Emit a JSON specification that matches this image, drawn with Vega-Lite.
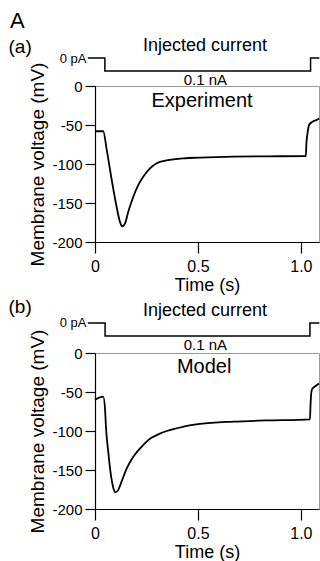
{
  "$schema": "https://vega.github.io/schema/vega-lite/v6.json",
  "padding": {"left": 8, "top": 10, "right": 0, "bottom": 0},
  "background": "white",
  "title": {"text": "A", "anchor": "start", "fontSize": 22, "fontWeight": "normal", "font": "Liberation Sans", "color": "black", "offset": 4, "dx": 2},
  "config": {
    "font": "Liberation Sans",
    "view": {"stroke": "#999", "strokeWidth": 1},
    "axis": {"grid": false, "labelFont": "Liberation Sans", "titleFont": "Liberation Sans", "labelColor": "black", "titleColor": "black", "domainColor": "black", "tickColor": "black", "titleFontWeight": "normal", "labelFlush": false, "labelOverlap": false, "domainWidth": 1.2, "tickWidth": 1.2, "tickCount": 10},
    "text": {"font": "Liberation Sans", "color": "black"}
  },
  "datasets": {
    "one": [{}],
    "curA": [{"t": -0.035, "I": 0}, {"t": 0.048, "I": -0.1}, {"t": 1.047, "I": 0}, {"t": 1.09, "I": 0}],
    "curB": [{"t": -0.035, "I": 0}, {"t": 0.049, "I": -0.1}, {"t": 1.044, "I": 0}, {"t": 1.09, "I": 0}],
    "expA": [
      {"t": 0, "v": -58}, {"t": 0.04, "v": -58}, {"t": 0.057, "v": -82}, {"t": 0.081, "v": -120},
      {"t": 0.105, "v": -155}, {"t": 0.121, "v": -174}, {"t": 0.131, "v": -180}, {"t": 0.146, "v": -176},
      {"t": 0.162, "v": -161}, {"t": 0.186, "v": -142}, {"t": 0.21, "v": -127}, {"t": 0.235, "v": -116},
      {"t": 0.267, "v": -105.5}, {"t": 0.3, "v": -99}, {"t": 0.348, "v": -95.5}, {"t": 0.43, "v": -92.7},
      {"t": 0.51, "v": -91.8}, {"t": 0.67, "v": -90.6}, {"t": 0.833, "v": -90.2}, {"t": 1.024, "v": -89.8},
      {"t": 1.027, "v": -73}, {"t": 1.032, "v": -61}, {"t": 1.04, "v": -50}, {"t": 1.055, "v": -46},
      {"t": 1.076, "v": -43.5}, {"t": 1.088, "v": -41.5}
    ],
    "modelB": [
      {"t": 0, "v": -60}, {"t": 0.04, "v": -56}, {"t": 0.049, "v": -73}, {"t": 0.053, "v": -94},
      {"t": 0.065, "v": -128}, {"t": 0.078, "v": -158}, {"t": 0.089, "v": -173}, {"t": 0.1, "v": -178.5},
      {"t": 0.113, "v": -175.5}, {"t": 0.129, "v": -165}, {"t": 0.154, "v": -148}, {"t": 0.186, "v": -133},
      {"t": 0.227, "v": -120}, {"t": 0.267, "v": -110}, {"t": 0.31, "v": -104}, {"t": 0.348, "v": -100}, {"t": 0.429, "v": -94.5},
      {"t": 0.51, "v": -91}, {"t": 0.671, "v": -88}, {"t": 0.833, "v": -86.5}, {"t": 1.044, "v": -85},
      {"t": 1.047, "v": -66}, {"t": 1.05, "v": -52}, {"t": 1.055, "v": -46}, {"t": 1.068, "v": -43},
      {"t": 1.088, "v": -39}
    ]
  },
  "vconcat": [
    {
      "width": 224, "height": 13,
      "view": {"stroke": null},
      "layer": [
        {
          "data": {"name": "curA"},
          "mark": {"type": "line", "interpolate": "step-after", "color": "black", "strokeWidth": 1.5},
          "encoding": {
            "x": {"field": "t", "type": "quantitative", "scale": {"domain": [0, 1.088], "nice": false, "zero": false}, "axis": null},
            "y": {"field": "I", "type": "quantitative", "scale": {"domain": [-0.1, 0], "nice": false, "zero": false},
              "axis": {"values": [0], "labelExpr": "'0 pA'", "ticks": false, "tickSize": 0, "domain": false, "labelPadding": 9, "labelFontSize": 13,
                "title": "(a)", "titleAngle": 0, "titleX": -87, "titleY": -6, "titleAlign": "left", "titleBaseline": "alphabetic", "titleFontSize": 19}}
          }
        },
        {
          "data": {"name": "one"},
          "mark": {"type": "text", "fontSize": 18, "align": "center", "baseline": "middle", "text": "Injected current"},
          "encoding": {"x": {"datum": 0.534}, "y": {"datum": 0.09}}
        },
        {
          "data": {"name": "one"},
          "mark": {"type": "text", "fontSize": 15, "align": "center", "baseline": "top", "dy": 2, "text": "0.1 nA"},
          "encoding": {"x": {"datum": 0.536}, "y": {"datum": -0.1}}
        }
      ]
    },
    {
      "width": 224, "height": 156,
      "layer": [
        {
          "data": {"name": "expA"},
          "mark": {"type": "line", "interpolate": "monotone", "color": "black", "strokeWidth": 1.8},
          "encoding": {
            "x": {"field": "t", "type": "quantitative", "scale": {"domain": [0, 1.088], "nice": false, "zero": false},
              "axis": {"values": [0, 0.5, 1], "labelExpr": "datum.value == 0 ? '0' : format(datum.value, '.1f')", "tickSize": 11, "labelPadding": 5, "labelFontSize": 16, "labelOverlap": false, "title": "Time (s)", "titleFontSize": 18, "titlePadding": 2}},
            "y": {"field": "v", "type": "quantitative", "scale": {"domain": [-200, 0], "nice": false, "zero": false},
              "axis": {"values": [0, -50, -100, -150, -200], "tickCount": 10, "labelExpr": "datum.value == 0 ? '0' : '-' + format(-datum.value, 'd')", "tickSize": 10, "labelPadding": 3, "labelFontSize": 15, "labelOverlap": false, "title": "Membrane voltage (mV)", "titleFontSize": 19, "titlePadding": 4}}
          }
        },
        {
          "data": {"name": "one"},
          "mark": {"type": "text", "fontSize": 20, "align": "center", "baseline": "middle", "text": "Experiment"},
          "encoding": {"x": {"datum": 0.52}, "y": {"datum": -19}}
        }
      ]
    },
    {
      "width": 224, "height": 81,
      "view": {"stroke": null},
      "layer": [
        {
          "data": {"name": "curB"},
          "mark": {"type": "line", "interpolate": "step-after", "color": "black", "strokeWidth": 1.5},
          "encoding": {
            "x": {"field": "t", "type": "quantitative", "scale": {"domain": [0, 1.088], "nice": false, "zero": false}, "axis": null},
            "y": {"field": "I", "type": "quantitative", "scale": {"domain": [-0.1154, 0.5077], "nice": false, "zero": false},
              "axis": {"values": [0], "labelExpr": "'0 pA'", "ticks": false, "tickSize": 0, "domain": false, "labelPadding": 9, "labelFontSize": 13,
                "title": "(b)", "titleAngle": 0, "titleX": -87, "titleY": 55, "titleAlign": "left", "titleBaseline": "alphabetic", "titleFontSize": 19}}
          }
        },
        {
          "data": {"name": "one"},
          "mark": {"type": "text", "fontSize": 18, "align": "center", "baseline": "middle", "text": "Injected current"},
          "encoding": {"x": {"datum": 0.534}, "y": {"datum": 0.09}}
        },
        {
          "data": {"name": "one"},
          "mark": {"type": "text", "fontSize": 15, "align": "center", "baseline": "top", "dy": 2, "text": "0.1 nA"},
          "encoding": {"x": {"datum": 0.536}, "y": {"datum": -0.1}}
        }
      ]
    },
    {
      "width": 224, "height": 156,
      "layer": [
        {
          "data": {"name": "modelB"},
          "mark": {"type": "line", "interpolate": "monotone", "color": "black", "strokeWidth": 1.8},
          "encoding": {
            "x": {"field": "t", "type": "quantitative", "scale": {"domain": [0, 1.088], "nice": false, "zero": false},
              "axis": {"values": [0, 0.5, 1], "labelExpr": "datum.value == 0 ? '0' : format(datum.value, '.1f')", "tickSize": 11, "labelPadding": 5, "labelFontSize": 16, "labelOverlap": false, "title": "Time (s)", "titleFontSize": 18, "titlePadding": 2}},
            "y": {"field": "v", "type": "quantitative", "scale": {"domain": [-200, 0], "nice": false, "zero": false},
              "axis": {"values": [0, -50, -100, -150, -200], "tickCount": 10, "labelExpr": "datum.value == 0 ? '0' : '-' + format(-datum.value, 'd')", "tickSize": 10, "labelPadding": 3, "labelFontSize": 15, "labelOverlap": false, "title": "Membrane voltage (mV)", "titleFontSize": 19, "titlePadding": 4}}
          }
        },
        {
          "data": {"name": "one"},
          "mark": {"type": "text", "fontSize": 20, "align": "center", "baseline": "middle", "text": "Model"},
          "encoding": {"x": {"datum": 0.53}, "y": {"datum": -18}}
        }
      ]
    }
  ],
  "spacing": 15,
  "bounds": "flush",
  "resolve": {"scale": {"x": "independent", "y": "independent"}}
}
